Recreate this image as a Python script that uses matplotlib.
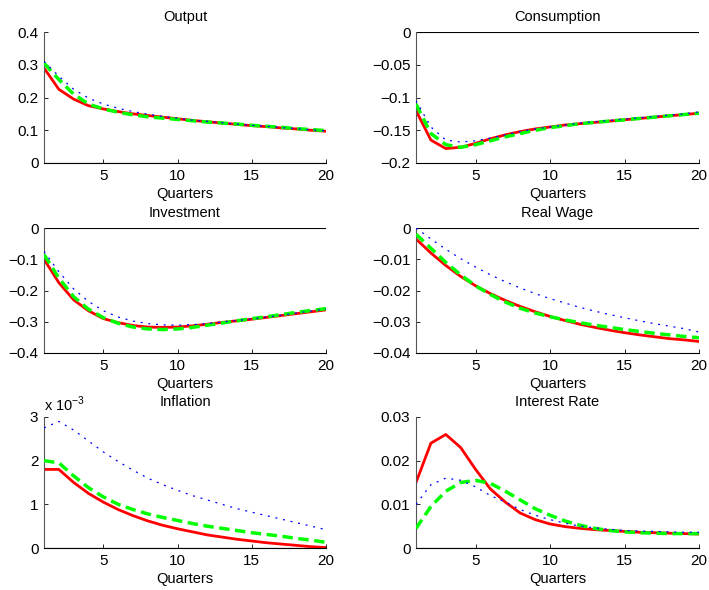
import matplotlib
matplotlib.use("Agg")
import matplotlib.pyplot as plt
import numpy as np

plt.rcParams['font.family'] = ['Liberation Sans', 'DejaVu Sans']
plt.rcParams['font.size'] = 10
plt.rcParams['mathtext.fontset'] = 'custom'
plt.rcParams['mathtext.rm'] = 'Liberation Sans'

quarters = np.arange(1, 21)

# Output
output_red = [0.29, 0.225, 0.195, 0.175, 0.165, 0.157, 0.150, 0.145, 0.140, 0.135,
              0.130, 0.126, 0.122, 0.118, 0.114, 0.111, 0.107, 0.104, 0.100, 0.097]
output_green = [0.305, 0.255, 0.21, 0.18, 0.165, 0.155, 0.147, 0.141, 0.137, 0.133,
                0.129, 0.125, 0.122, 0.119, 0.115, 0.112, 0.109, 0.105, 0.102, 0.099]
output_blue = [0.31, 0.265, 0.225, 0.198, 0.18, 0.167, 0.157, 0.149, 0.142, 0.137,
               0.131, 0.127, 0.123, 0.119, 0.115, 0.112, 0.108, 0.105, 0.101, 0.098]

# Consumption
cons_red = [-0.12, -0.165, -0.178, -0.176, -0.170, -0.163, -0.157, -0.152, -0.148, -0.145,
            -0.142, -0.140, -0.138, -0.136, -0.134, -0.132, -0.130, -0.128, -0.126, -0.124]
cons_green = [-0.11, -0.155, -0.172, -0.176, -0.172, -0.166, -0.160, -0.155, -0.150, -0.146,
              -0.143, -0.140, -0.138, -0.136, -0.134, -0.132, -0.130, -0.128, -0.126, -0.124]
cons_blue = [-0.105, -0.145, -0.165, -0.168, -0.166, -0.162, -0.157, -0.152, -0.148, -0.145,
             -0.142, -0.139, -0.137, -0.135, -0.133, -0.131, -0.129, -0.127, -0.125, -0.122]

# Investment
inv_red = [-0.10, -0.175, -0.23, -0.265, -0.29, -0.303, -0.312, -0.317, -0.318, -0.317,
           -0.313, -0.308, -0.302, -0.297, -0.292, -0.286, -0.280, -0.274, -0.268, -0.262]
inv_green = [-0.085, -0.16, -0.22, -0.26, -0.287, -0.305, -0.317, -0.323, -0.325, -0.323,
             -0.318, -0.311, -0.304, -0.297, -0.29, -0.284, -0.277, -0.270, -0.264, -0.258]
inv_blue = [-0.075, -0.14, -0.195, -0.235, -0.265, -0.285, -0.298, -0.306, -0.31, -0.311,
            -0.309, -0.306, -0.301, -0.296, -0.291, -0.285, -0.279, -0.272, -0.266, -0.259]

# Real wage
wage_red = [-0.0035, -0.008, -0.012, -0.0155, -0.0185, -0.021, -0.0232, -0.0251, -0.0268, -0.0283,
            -0.0296, -0.0308, -0.0318, -0.0327, -0.0335, -0.0342, -0.0348, -0.0354, -0.0358, -0.0363]
wage_green = [-0.002, -0.0065, -0.011, -0.015, -0.0185, -0.0213, -0.0237, -0.0257, -0.0272, -0.0284,
              -0.0294, -0.0303, -0.0311, -0.0318, -0.0325, -0.0331, -0.0337, -0.0342, -0.0347, -0.0351]
wage_blue = [0.0, -0.0035, -0.0068, -0.0098, -0.0125, -0.015, -0.0172, -0.0192, -0.021, -0.0226,
             -0.024, -0.0254, -0.0266, -0.0277, -0.0287, -0.0297, -0.0306, -0.0314, -0.0322, -0.0333]

# Inflation (x 1e-3)
infl_red = [1.8, 1.8, 1.5, 1.25, 1.05, 0.88, 0.74, 0.62, 0.52, 0.44,
            0.37, 0.30, 0.25, 0.20, 0.16, 0.12, 0.09, 0.06, 0.03, 0.01]
infl_green = [2.0, 1.95, 1.65, 1.38, 1.17, 1.0, 0.88, 0.78, 0.70, 0.63,
              0.56, 0.50, 0.45, 0.40, 0.35, 0.31, 0.27, 0.22, 0.18, 0.13]
infl_blue = [2.75, 2.9, 2.7, 2.45, 2.2, 1.98, 1.78, 1.6, 1.45, 1.32,
             1.2, 1.1, 1.0, 0.9, 0.82, 0.74, 0.66, 0.58, 0.5, 0.42]

# Interest rate
rate_red = [0.015, 0.024, 0.026, 0.023, 0.018, 0.0135, 0.0105, 0.008, 0.0065, 0.0055,
            0.0049, 0.0045, 0.0042, 0.0040, 0.0038, 0.0036, 0.0035, 0.0034, 0.0033, 0.0032]
rate_green = [0.0045, 0.0095, 0.013, 0.015, 0.0155, 0.0148, 0.013, 0.011, 0.009, 0.0075,
              0.0062, 0.0052, 0.0045, 0.0040, 0.0037, 0.0035, 0.0034, 0.0033, 0.0033, 0.0033]
rate_blue = [0.010, 0.0145, 0.016, 0.0155, 0.014, 0.012, 0.0105, 0.0088, 0.0075, 0.0065,
             0.0057, 0.0050, 0.0046, 0.0043, 0.0040, 0.0039, 0.0038, 0.0037, 0.0036, 0.0036]

panels = [
    ("Output", output_red, output_green, output_blue, (0, 0.4), [0, 0.1, 0.2, 0.3, 0.4], ["0", "0.1", "0.2", "0.3", "0.4"]),
    ("Consumption", cons_red, cons_green, cons_blue, (-0.2, 0), [-0.2, -0.15, -0.1, -0.05, 0], ["\u22120.2", "\u22120.15", "\u22120.1", "\u22120.05", "0"]),
    ("Investment", inv_red, inv_green, inv_blue, (-0.4, 0), [-0.4, -0.3, -0.2, -0.1, 0], ["\u22120.4", "\u22120.3", "\u22120.2", "\u22120.1", "0"]),
    ("Real Wage", wage_red, wage_green, wage_blue, (-0.04, 0), [-0.04, -0.03, -0.02, -0.01, 0], ["\u22120.04", "\u22120.03", "\u22120.02", "\u22120.01", "0"]),
    ("Inflation", infl_red, infl_green, infl_blue, (0, 3), [0, 1, 2, 3], ["0", "1", "2", "3"]),
    ("Interest Rate", rate_red, rate_green, rate_blue, (0, 0.03), [0, 0.01, 0.02, 0.03], ["0", "0.01", "0.02", "0.03"]),
]

# axes boxes in pixels (left, top, right, bottom)
W, H = 709, 590
rows = [(32, 163), (228, 353), (417, 548)]
cols = [(44, 326), (416, 699)]

fig = plt.figure(figsize=(W / 100, H / 100), dpi=100)

for i, (title, red, green, blue, ylim, yticks, ylabels) in enumerate(panels):
    top, bot = rows[i // 2]
    left, right = cols[i % 2]
    ax = fig.add_axes([left / W, 1 - bot / H, (right - left) / W, (bot - top) / H])
    ax.axhline(0, color="k", lw=0.8, zorder=1)
    ax.plot(quarters, blue, color="b", ls=":", lw=0.9, dashes=(1.6, 4.6), zorder=4)
    ax.plot(quarters, green, color=(0, 1, 0), ls="--", lw=2.5, dashes=(3, 1.6), zorder=3)
    ax.plot(quarters, red, color="r", ls="-", lw=2.0, zorder=2)
    ax.set_xlim(1, 20)
    ax.set_ylim(*ylim)
    ax.set_xticks([5, 10, 15, 20])
    ax.set_yticks(yticks)
    ax.set_yticklabels(ylabels)
    ax.tick_params(direction="in", length=3, width=0.6, labelsize=11, pad=4)
    ax.spines["top"].set_visible(False)
    ax.spines["right"].set_visible(False)
    ax.spines["left"].set_color("#555555")
    ax.spines["bottom"].set_color("k")
    ax.set_title(title, fontsize=10.5, pad=8)
    ax.set_xlabel("Quarters", fontsize=10.5, labelpad=3)
    if title == "Inflation":
        ax.text(0.0, 1.02, r"x 10$^{-3}$", transform=ax.transAxes, fontsize=10.5,
                ha="left", va="bottom")

fig.savefig("out.png", dpi=100)
